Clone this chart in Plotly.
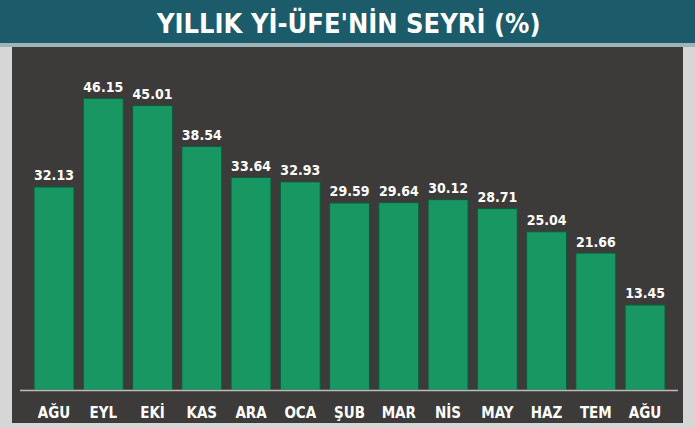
import plotly.graph_objects as go

months = ["AĞU", "EYL", "EKİ", "KAS", "ARA", "OCA", "ŞUB", "MAR", "NİS", "MAY", "HAZ", "TEM", "AĞU"]
values = [32.13, 46.15, 45.01, 38.54, 33.64, 32.93, 29.59, 29.64, 30.12, 28.71, 25.04, 21.66, 13.45]
labels = [f"{v:.2f}" for v in values]
title = "YILLIK Yİ-ÜFE'NİN SEYRİ (%)"

W, H = 695, 428
L, R, T, B = 12, 12, 47, 38
ph = H - T - B  # plot height
pw = W - L - R
FONT = "DejaVu Sans Condensed, Roboto, sans-serif"

xs = list(range(len(months)))

fig = go.Figure(go.Bar(
    x=xs, y=values,
    text=labels, textposition="outside",
    textfont=dict(family=FONT, size=20, color="white", weight="bold"),
    marker=dict(color="#189762", line=dict(color="#0f5a3d", width=1)),
    cliponaxis=False,
    hoverinfo="skip",
))

def py(pix):
    return (H - B - pix) / ph

shapes = [
    dict(type="rect", xref="paper", yref="paper", x0=0, x1=1, y0=py(423), y1=1,
         fillcolor="#3d3a3a", line=dict(width=0), layer="below"),
    dict(type="rect", xref="paper", yref="paper", x0=-L / pw, x1=1 + R / pw,
         y0=py(43), y1=py(0), fillcolor="#1c5b6a", line=dict(width=0), layer="below"),
    dict(type="rect", xref="paper", yref="paper", x0=-L / pw, x1=1 + R / pw,
         y0=py(47), y1=py(43), fillcolor="#9fb3ba", line=dict(width=0), layer="below"),
    dict(type="line", xref="paper", yref="paper", x0=8 / pw, x1=(678 - L) / pw,
         y0=py(390.5), y1=py(390.5), line=dict(color="#bdbdbd", width=1.5)),
]

fig.update_layout(
    width=W, height=H,
    margin=dict(l=L, r=R, t=T, b=B, autoexpand=False),
    paper_bgcolor="#d6d6d6",
    plot_bgcolor="#3d3a3a",
    bargap=0.19,
    showlegend=False,
    shapes=shapes,
    annotations=[dict(text=title, xref="paper", yref="paper", x=0.5, y=py(23),
                      xanchor="center", yanchor="middle", showarrow=False,
                      font=dict(family=FONT, size=27, color="white", weight="bold"))],
    xaxis=dict(range=[-0.853, 12.77], tickvals=xs, ticktext=months,
               showgrid=False, zeroline=False, showline=False, ticks="",
               ticklabelstandoff=12, automargin=False,
               tickfont=dict(family=FONT, size=15, color="white", weight="bold"),
               fixedrange=True),
    yaxis=dict(range=[0, ph / 6.32], visible=False, fixedrange=True, automargin=False),
)

fig.write_html("out.html", config={"displayModeBar": False},
               post_script="document.body.style.margin='0';")
